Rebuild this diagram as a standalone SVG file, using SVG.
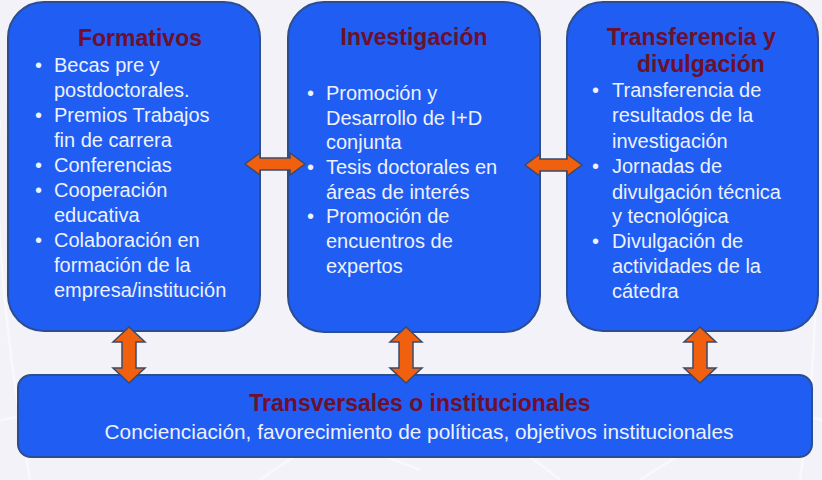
<svg xmlns="http://www.w3.org/2000/svg" width="822" height="480" viewBox="0 0 822 480">
<style>
.box{fill:#1F5DF3;stroke:#2D4E8E;stroke-width:2}
.title{font-family:"Liberation Sans",Arial,sans-serif;font-weight:bold;font-size:23px;fill:#6E0F2C}
.body{font-family:"Liberation Sans",Arial,sans-serif;font-size:20px;fill:#EEF1FF}
.sub{font-family:"Liberation Sans",Arial,sans-serif;font-size:20.8px;fill:#EEF1FF}
.arrow{fill:#F0600F;stroke:#3B4A6B;stroke-width:1.5;stroke-linejoin:miter}
.swoosh{fill:none;stroke:#FFFFFF;stroke-width:2.5;opacity:0.55}
</style>
<rect x="0" y="0" width="822" height="480" fill="#F2F2F8"/>
<g id="background">
<path class="swoosh" d="M0,420 Q200,380 420,470"/>
<path class="swoosh" d="M260,480 Q420,360 560,480"/>
<path class="swoosh" d="M640,480 Q760,400 822,420"/>
<path class="swoosh" d="M0,120 Q-10,250 30,480"/>
<path class="swoosh" d="M780,0 Q840,200 800,480"/>
</g>
<g id="formativos">
<rect class="box" x="8" y="2" width="252" height="329" rx="36" ry="36"/>
<text class="title" x="140" y="46" text-anchor="middle">Formativos</text>
<text class="body">
<tspan x="35" y="72">•</tspan><tspan x="54" y="72">Becas pre y</tspan>
<tspan x="54" y="97">postdoctorales.</tspan>
<tspan x="35" y="122">•</tspan><tspan x="54" y="122">Premios Trabajos</tspan>
<tspan x="54" y="147">fin de carrera</tspan>
<tspan x="35" y="172">•</tspan><tspan x="54" y="172">Conferencias</tspan>
<tspan x="35" y="197">•</tspan><tspan x="54" y="197">Cooperación</tspan>
<tspan x="54" y="222">educativa</tspan>
<tspan x="35" y="247">•</tspan><tspan x="54" y="247">Colaboración en</tspan>
<tspan x="54" y="272">formación de la</tspan>
<tspan x="54" y="297">empresa/institución</tspan>
</text>
</g>
<g id="investigacion">
<rect class="box" x="288" y="2" width="252" height="330" rx="36" ry="36"/>
<text class="title" x="414" y="45" text-anchor="middle">Investigación</text>
<text class="body">
<tspan x="307" y="100">•</tspan><tspan x="326" y="100">Promoción y</tspan>
<tspan x="326" y="125">Desarrollo de I+D</tspan>
<tspan x="326" y="149">conjunta</tspan>
<tspan x="307" y="174">•</tspan><tspan x="326" y="174">Tesis doctorales en</tspan>
<tspan x="326" y="199">áreas de interés</tspan>
<tspan x="307" y="223">•</tspan><tspan x="326" y="223">Promoción de</tspan>
<tspan x="326" y="248">encuentros de</tspan>
<tspan x="326" y="273">expertos</tspan>
</text>
</g>
<g id="transferencia">
<rect class="box" x="567" y="2" width="251" height="329" rx="36" ry="36"/>
<text class="title"><tspan x="607" y="45">Transferencia y</tspan><tspan x="637" y="72">divulgación</tspan></text>
<text class="body">
<tspan x="592" y="97">•</tspan><tspan x="612" y="97">Transferencia de</tspan>
<tspan x="612" y="122">resultados de la</tspan>
<tspan x="612" y="148">investigación</tspan>
<tspan x="592" y="173">•</tspan><tspan x="612" y="173">Jornadas de</tspan>
<tspan x="612" y="199">divulgación técnica</tspan>
<tspan x="612" y="223">y tecnológica</tspan>
<tspan x="592" y="248">•</tspan><tspan x="612" y="248">Divulgación de</tspan>
<tspan x="612" y="273">actividades de la</tspan>
<tspan x="612" y="298">cátedra</tspan>
</text>
</g>
<g id="transversales">
<rect class="box" x="18" y="375" width="794" height="82" rx="13" ry="13"/>
<text class="title" x="420" y="411" text-anchor="middle">Transversales o institucionales</text>
<text class="sub" x="419" y="439" text-anchor="middle">Concienciación, favorecimiento de políticas, objetivos institucionales</text>
</g>
<g id="connectors">
<path class="arrow" d="M245,164 L260,153 L260,158 L290,158 L290,153 L305,164 L290,175 L290,170 L260,170 L260,175 Z"/>
<path class="arrow" d="M525,165 L540,154 L540,159 L567,159 L567,154 L582,165 L567,176 L567,171 L540,171 L540,176 Z"/>
<path class="arrow" d="M129,327 L145,342 L136,342 L136,368 L145,368 L129,383 L113,368 L122,368 L122,342 L113,342 Z"/>
<path class="arrow" d="M406,327 L422,342 L413,342 L413,368 L422,368 L406,383 L390,368 L399,368 L399,342 L390,342 Z"/>
<path class="arrow" d="M700,327 L716,342 L707,342 L707,368 L716,368 L700,383 L684,368 L693,368 L693,342 L684,342 Z"/>
</g>
</svg>
